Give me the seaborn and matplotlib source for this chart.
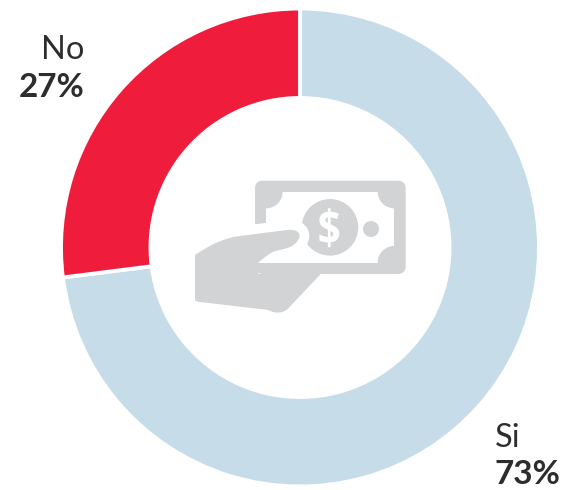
"""Donut chart: Si / No share with a money icon in the middle."""

import seaborn as sns
from matplotlib import pyplot as plt
from matplotlib.patches import Circle, FancyBboxPatch, PathPatch, Rectangle
from matplotlib.path import Path
from matplotlib.textpath import TextPath
from matplotlib.font_manager import FontProperties
from matplotlib.transforms import Affine2D

# data
labels = ["Si", "No"]
values = [73, 27]
value_labels = ["73%", "27%"]
colors = ["#C6DDE9", "#F01C3C"]

ICON_GREY = "#D1D3D4"
TEXT_COLOR = "#2D2D2D"
W, H = 581, 490

sns.set_theme(style="white")
plt.rcParams["font.family"] = ["Lato", "DejaVu Sans"]

fig = plt.figure(figsize=(W / 100, H / 100), dpi=100)
ax = fig.add_axes([0, 0, 1, 1])

# donut, the white edge eats about 2 px on each side
ax.pie(values,
       colors=sns.color_palette(colors),
       startangle=90,
       counterclock=False,
       center=(300, H - 247.5),
       radius=239,
       wedgeprops=dict(width=89.5, edgecolor="white", linewidth=2.8))

ax.set_xlim(0, W)
ax.set_ylim(0, H)
ax.set_aspect("equal")
ax.axis("off")


def z(x, y):
    return 180 + x / 3, H - (160 + y / 3)


def add(patch):
    ax.add_patch(patch)
    return patch


def bezier(start, segments):
    verts, codes = [z(*start)], [Path.MOVETO]
    for seg in segments:
        if len(seg) == 1:
            verts.append(z(*seg[0]))
            codes.append(Path.LINETO)
        else:
            verts.extend(z(*p) for p in seg)
            codes.extend([Path.CURVE4] * 3)
    return Path(verts, codes)


# banknote
x0, y1 = z(225, 342)
x1, y0 = z(677, 62)
add(FancyBboxPatch((x0 + 8, y1 + 8), x1 - x0 - 16, y0 - y1 - 16,
                   boxstyle="round,pad=8,rounding_size=8",
                   fc=ICON_GREY, ec="none", zorder=3))
ix0, iy1 = z(258, 308)
ix1, iy0 = z(643, 95)
inner = add(Rectangle((ix0, iy1), ix1 - ix0, iy0 - iy1, fc="white", ec="none", zorder=3.1))
for cx, cy in [(ix0, iy0), (ix1, iy0), (ix1, iy1)]:
    corner = add(Circle((cx, cy), 16.7, fc=ICON_GREY, ec="none", zorder=3.2))
    corner.set_clip_path(inner)

# left strip of the note is open under the fingers
sx0, sy0 = z(225, 308)
sx1, sy1 = z(258, 230)
add(Rectangle((sx0, sy0), sx1 - sx0, sy1 - sy0, fc="white", ec="none", zorder=3.15))

add(Circle(z(450, 202), 28.3, fc=ICON_GREY, ec="none", zorder=3.3))
add(Circle(z(573, 207), 8, fc=ICON_GREY, ec="none", zorder=3.3))

# dollar sign on the coin
dollar = TextPath((0, 0), "$", size=40, prop=FontProperties(family="Open Sans", weight="bold"))
bb = dollar.get_extents()
dx, dy = z(448, 203)
dollar = dollar.transformed(
    Affine2D()
    .translate(-(bb.x0 + bb.x1) / 2, -(bb.y0 + bb.y1) / 2)
    .scale(20 / bb.width, 39 / bb.height)
    .translate(dx, dy))
add(PathPatch(dollar, fc="white", ec="none", zorder=3.4))

# white halo around the fingers, cuts the note and the coin
top_edge = [[(70, 270), (100, 245), (165, 230)],
            [(320, 210)],
            [(345, 207), (362, 215), (358, 232)],
            [(352, 250), (335, 262), (315, 266)]]
add(PathPatch(bezier((45, 285), top_edge), fc="none", ec="white", lw=14,
              capstyle="round", zorder=3.5))

# hand
hand = bezier((45, 285), [
    [(70, 270), (100, 245), (165, 230)],
    [(320, 210)],
    [(345, 207), (362, 215), (358, 232)],
    [(352, 250), (335, 262), (315, 266)],
    [(280, 275)],
    [(262, 285), (245, 298), (235, 308)],
    [(235, 342)],
    [(422, 342)],
    [(325, 445)],
    [(310, 460), (285, 462), (265, 450)],
    [(52, 425)],
    [(45, 420)],
    [(45, 285)],
])
add(PathPatch(hand, fc=ICON_GREY, ec="none", zorder=3.6))

# labels, one line for the name and a bold one for the share
ax.text(84, H - 59, labels[1], ha="right", va="baseline", fontsize=23.5,
        fontweight="normal", color=TEXT_COLOR)
ax.text(84, H - 97, value_labels[1], ha="right", va="baseline", fontsize=24,
        fontweight="bold", color=TEXT_COLOR)
# kept a few px higher than the reference so the bold line stays inside the canvas
ax.text(495, H - 447, labels[0], ha="left", va="baseline", fontsize=23.5,
        fontweight="normal", color=TEXT_COLOR)
ax.text(495, H - 484, value_labels[0], ha="left", va="baseline", fontsize=24,
        fontweight="bold", color=TEXT_COLOR)

plt.savefig("out.png", dpi=100)
